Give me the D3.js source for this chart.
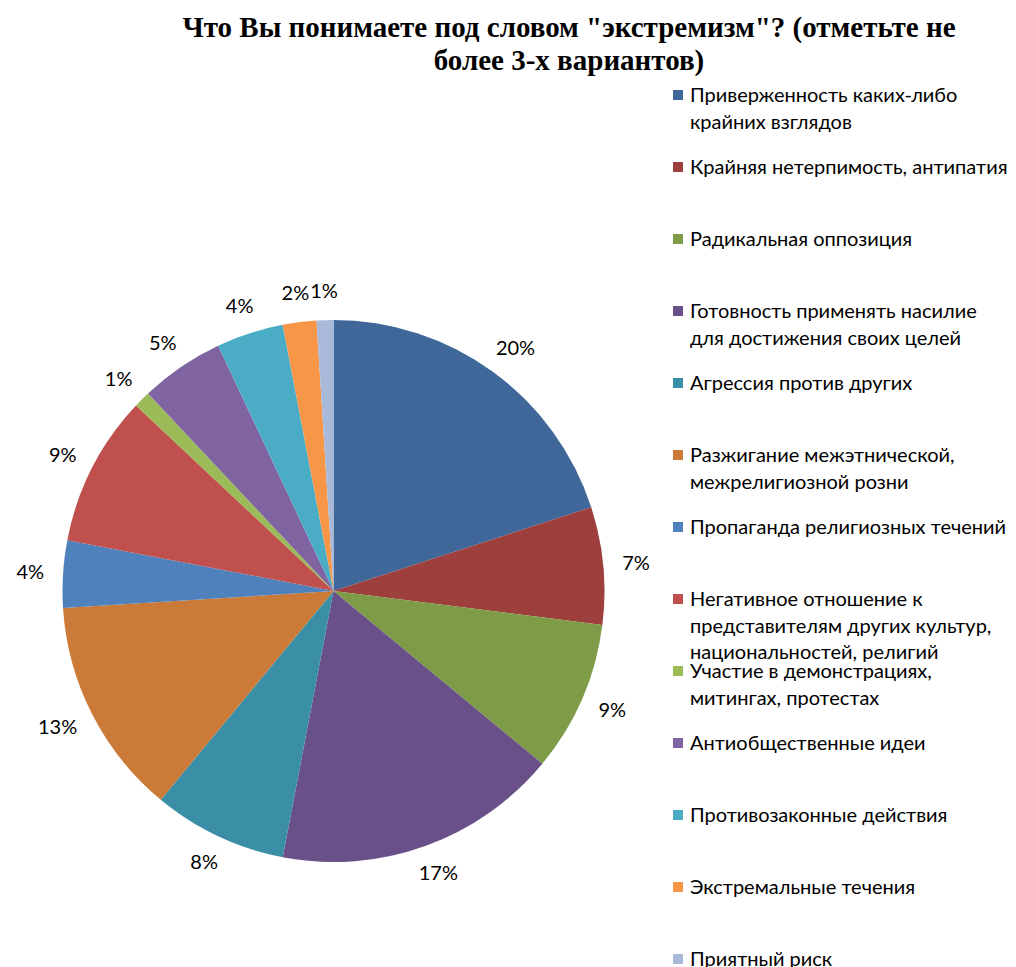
<!DOCTYPE html>
<html>
<head>
<meta charset="utf-8">
<script src="https://cdn.jsdelivr.net/npm/d3@7"></script>
<style>
  body { margin: 0; background: #fff; }
  svg { display: block; }
</style>
</head>
<body>
<svg id="chart" width="1016" height="967"></svg>
<script>
// data
var categories = [
  ["Приверженность каких-либо", "крайних взглядов"],
  ["Крайняя нетерпимость, антипатия"],
  ["Радикальная оппозиция"],
  ["Готовность применять насилие", "для достижения своих целей"],
  ["Агрессия против других"],
  ["Разжигание межэтнической,", "межрелигиозной розни"],
  ["Пропаганда религиозных течений"],
  ["Негативное отношение к", "представителям других культур,", "национальностей, религий"],
  ["Участие в демонстрациях,", "митингах, протестах"],
  ["Антиобщественные идеи"],
  ["Противозаконные действия"],
  ["Экстремальные течения"],
  ["Приятный риск"]
];
var values = [20, 7, 9, 17, 8, 13, 4, 9, 1, 5, 4, 2, 1];
var colors = ["#3f6799", "#9d3f3c", "#7e9b48", "#6a5088", "#3a8ea5", "#cc7a37",
              "#4f81bd", "#c0504d", "#9bbb59", "#8064a2", "#4bacc6", "#f79646", "#a8b9da"];
var title = ['Что Вы понимаете под словом "экстремизм"? (отметьте не', 'более 3-х вариантов)'];

var svg = d3.select("#chart");
var cx = 333.5, cy = 591, r = 271;

svg.append("g")
  .selectAll("text")
  .data(title)
  .enter()
  .append("text")
  .attr("x", 569)
  .attr("y", (d, i) => 37 + i * 33)
  .attr("text-anchor", "middle")
  .style("font", "bold 29px 'Liberation Serif', serif")
  .attr("fill", "#000")
  .text(d => d);

var pie = d3.pie().sort(null).value(d => d);
var arcs = pie(values);
var arc = d3.arc().innerRadius(0).outerRadius(r);

var g = svg.append("g").attr("transform", `translate(${cx},${cy})`);

g.selectAll("path")
  .data(arcs)
  .enter()
  .append("path")
  .attr("d", arc)
  .attr("fill", (d, i) => colors[i]);

// labels sit just outside the rim, box pushed out along the mid angle
var gap = 290, lh = 20;
g.selectAll(".lbl")
  .data(arcs)
  .enter()
  .append("text")
  .attr("class", "lbl")
  .attr("text-anchor", "middle")
  .attr("dy", "0.35em")
  .style("font", "20px Lato, sans-serif")
  .attr("fill", "#000")
  .text(d => d.data + "%")
  .attr("transform", function(d) {
    var a = (d.startAngle + d.endAngle) / 2;
    var ux = Math.sin(a), uy = -Math.cos(a);
    var w = this.getComputedTextLength();
    return `translate(${ux * gap + ux * w / 2},${uy * gap + uy * lh / 2})`;
  });

var legend = svg.append("g").attr("transform", "translate(673,0)");
var item = legend.selectAll(".item")
  .data(categories)
  .enter()
  .append("g")
  .attr("class", "item")
  .attr("transform", (d, i) => `translate(0,${95 + i * 72})`);

item.append("rect")
  .attr("x", 0)
  .attr("y", -5)
  .attr("width", 10)
  .attr("height", 10)
  .attr("fill", (d, i) => colors[i]);

item.append("text")
  .style("font", "20px Lato, sans-serif")
  .attr("fill", "#000")
  .selectAll("tspan")
  .data(d => d)
  .enter()
  .append("tspan")
  .attr("x", 17)
  .attr("y", (d, i) => i * 26.5)
  .attr("dy", "0.35em")
  .text(d => d);
</script>
</body>
</html>
